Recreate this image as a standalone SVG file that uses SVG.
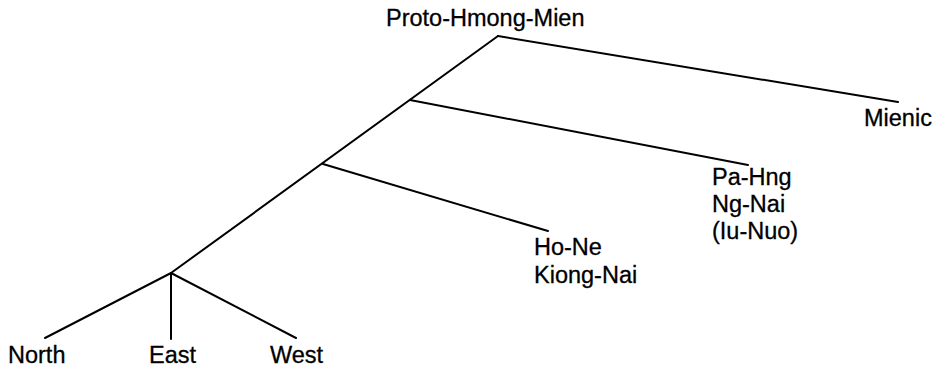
<svg xmlns="http://www.w3.org/2000/svg" width="943" height="373" viewBox="0 0 943 373">
<style>
.e{stroke:#000;stroke-width:2;fill:none;stroke-linecap:round}
text{font-family:"Liberation Sans",Arial,sans-serif;font-size:23.5px;fill:#000;stroke:#000;stroke-width:0.3}
</style>
<rect width="943" height="373" fill="#fff"/>
<g id="connectors">
<line class="e" x1="498" y1="36" x2="171" y2="273"/>
<line class="e" x1="498" y1="36" x2="898" y2="102"/>
<line class="e" x1="410" y1="100" x2="748" y2="165"/>
<line class="e" x1="323" y1="164" x2="548" y2="231"/>
<line class="e" x1="171" y1="273" x2="45" y2="338"/>
<line class="e" x1="171" y1="273" x2="171" y2="339"/>
<line class="e" x1="171" y1="273" x2="296" y2="338"/>
</g>
<g id="root"><text x="386" y="26">Proto-Hmong-Mien</text></g>
<g id="mienic"><text x="864" y="126">Mienic</text></g>
<g id="pahng"><text x="712" y="185">Pa-Hng</text><text x="712" y="212">Ng-Nai</text><text x="712" y="239">(Iu-Nuo)</text></g>
<g id="hone"><text x="534" y="255">Ho-Ne</text><text x="534" y="283">Kiong-Nai</text></g>
<g id="north"><text x="8" y="363">North</text></g>
<g id="east"><text x="149" y="363">East</text></g>
<g id="west"><text x="270" y="363">West</text></g>
</svg>
